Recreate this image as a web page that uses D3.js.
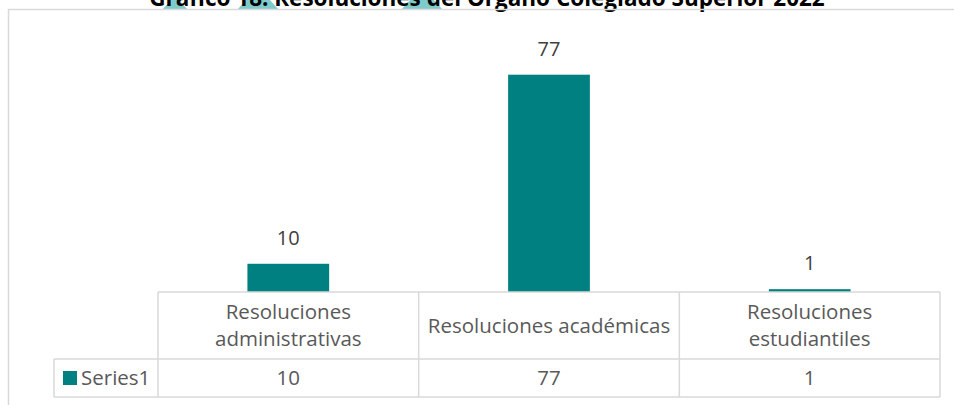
<!DOCTYPE html>
<html>
<head>
<meta charset="utf-8">
<script src="https://cdn.jsdelivr.net/npm/d3@7"></script>
<style>
  html, body { margin: 0; padding: 0; background: #fff; }
  svg { display: block; font-family: 'Open Sans', sans-serif; }
</style>
</head>
<body>
<div class="chart-container"></div>
<script>
const w = 954,
      h = 405;

// data
const categories = ['Resoluciones administrativas', 'Resoluciones académicas', 'Resoluciones estudiantiles'];
const categoryLines = [['Resoluciones', 'administrativas'], ['Resoluciones académicas'], ['Resoluciones', 'estudiantiles']];
const seriesName = 'Series1';
const values = [10, 77, 1];
const title = 'Gráfico 18. Resoluciones del Órgano Colegiado Superior 2022';

const teal = '#008080',
      grid = '#d9d9d9';

const plot = { left: 158, right: 940, top: 38, base: 292 };
const rowDiv = 359,
      tableBottom = 397,
      legendLeft = 54;

const svg = d3
  .select('.chart-container')
  .append('svg')
  .attr('width', w)
  .attr('height', h);

// decorative stripes behind the title
const stripes = [[163, 187], [238, 278], [402, 442]];
svg.selectAll('.stripe')
  .data(stripes)
  .enter()
  .append('polygon')
  .attr('class', 'stripe')
  .attr('points', d => `${d[0] + 8},0 ${d[1] - 8},0 ${d[1]},9 ${d[0]},9`)
  .style('fill', '#7fcbcb');

svg.append('text')
  .attr('x', 487)
  .attr('y', 6)
  .attr('text-anchor', 'middle')
  .style('font-size', '22.5px')
  .style('font-weight', 'bold')
  .style('fill', '#000')
  .text(title);

// outer chart frame (clipped by page)
svg.append('path')
  .attr('d', `M8.5,${h + 2} V9.5 H${w + 2}`)
  .style('fill', 'none')
  .style('stroke', grid)
  .style('stroke-width', 1.5);

const xCol = d3.scaleBand()
  .domain(categories)
  .range([plot.left, plot.right])
  .padding(0);

const xBar = d3.scaleBand()
  .domain(categories)
  .range([plot.left, plot.right])
  .paddingInner(0.6865)
  .paddingOuter(0.343);

const y = d3.scaleLinear()
  .domain([0, 90])
  .range([plot.base, plot.top]);

svg.selectAll('.bar')
  .data(values)
  .enter()
  .append('rect')
  .attr('class', 'bar')
  .attr('x', (d, i) => xBar(categories[i]))
  .attr('y', d => y(d))
  .attr('width', xBar.bandwidth())
  .attr('height', d => y(0) - y(d))
  .style('fill', teal);

svg.selectAll('.bar-label')
  .data(values)
  .enter()
  .append('text')
  .attr('class', 'bar-label')
  .attr('x', (d, i) => xBar(categories[i]) + xBar.bandwidth() / 2)
  .attr('y', d => y(d) - 19)
  .attr('text-anchor', 'middle')
  .style('font-size', '20px')
  .style('fill', '#404040')
  .text(d => d);

// data table
const table = svg.append('g')
  .style('fill', 'none')
  .style('stroke', grid)
  .style('stroke-width', 1.5);

table.append('line')
  .attr('x1', plot.left).attr('x2', plot.right)
  .attr('y1', plot.base).attr('y2', plot.base);
table.append('line')
  .attr('x1', legendLeft).attr('x2', plot.right)
  .attr('y1', rowDiv).attr('y2', rowDiv);
table.append('line')
  .attr('x1', legendLeft).attr('x2', plot.right)
  .attr('y1', tableBottom).attr('y2', tableBottom);
table.append('line')
  .attr('x1', legendLeft).attr('x2', legendLeft)
  .attr('y1', rowDiv).attr('y2', tableBottom);
table.selectAll('.vline')
  .data(categories.concat(['end']))
  .enter()
  .append('line')
  .attr('class', 'vline')
  .attr('x1', (d, i) => i < categories.length ? xCol(d) : plot.right)
  .attr('x2', (d, i) => i < categories.length ? xCol(d) : plot.right)
  .attr('y1', plot.base)
  .attr('y2', tableBottom);

const cats = svg.selectAll('.cat-label')
  .data(categoryLines)
  .enter()
  .append('text')
  .attr('class', 'cat-label')
  .attr('text-anchor', 'middle')
  .style('font-size', '20.5px')
  .style('fill', '#595959');

cats.selectAll('tspan')
  .data((d, i) => d.map((t, j) => ({ t, j, n: d.length, i })))
  .enter()
  .append('tspan')
  .attr('x', d => xCol(categories[d.i]) + xCol.bandwidth() / 2)
  .attr('y', d => (plot.base + rowDiv) / 2 + 7 + (d.j - (d.n - 1) / 2) * 27)
  .text(d => d.t);

svg.selectAll('.val-label')
  .data(values)
  .enter()
  .append('text')
  .attr('class', 'val-label')
  .attr('x', (d, i) => xCol(categories[i]) + xCol.bandwidth() / 2)
  .attr('y', (rowDiv + tableBottom) / 2 + 7)
  .attr('text-anchor', 'middle')
  .style('font-size', '20.5px')
  .style('fill', '#595959')
  .text(d => d);

// legend key in table
svg.append('rect')
  .attr('x', 63)
  .attr('y', 371)
  .attr('width', 14)
  .attr('height', 14)
  .style('fill', teal);

svg.append('text')
  .attr('x', 81)
  .attr('y', (rowDiv + tableBottom) / 2 + 7)
  .style('font-size', '20.5px')
  .style('fill', '#595959')
  .text(seriesName);
</script>
</body>
</html>
